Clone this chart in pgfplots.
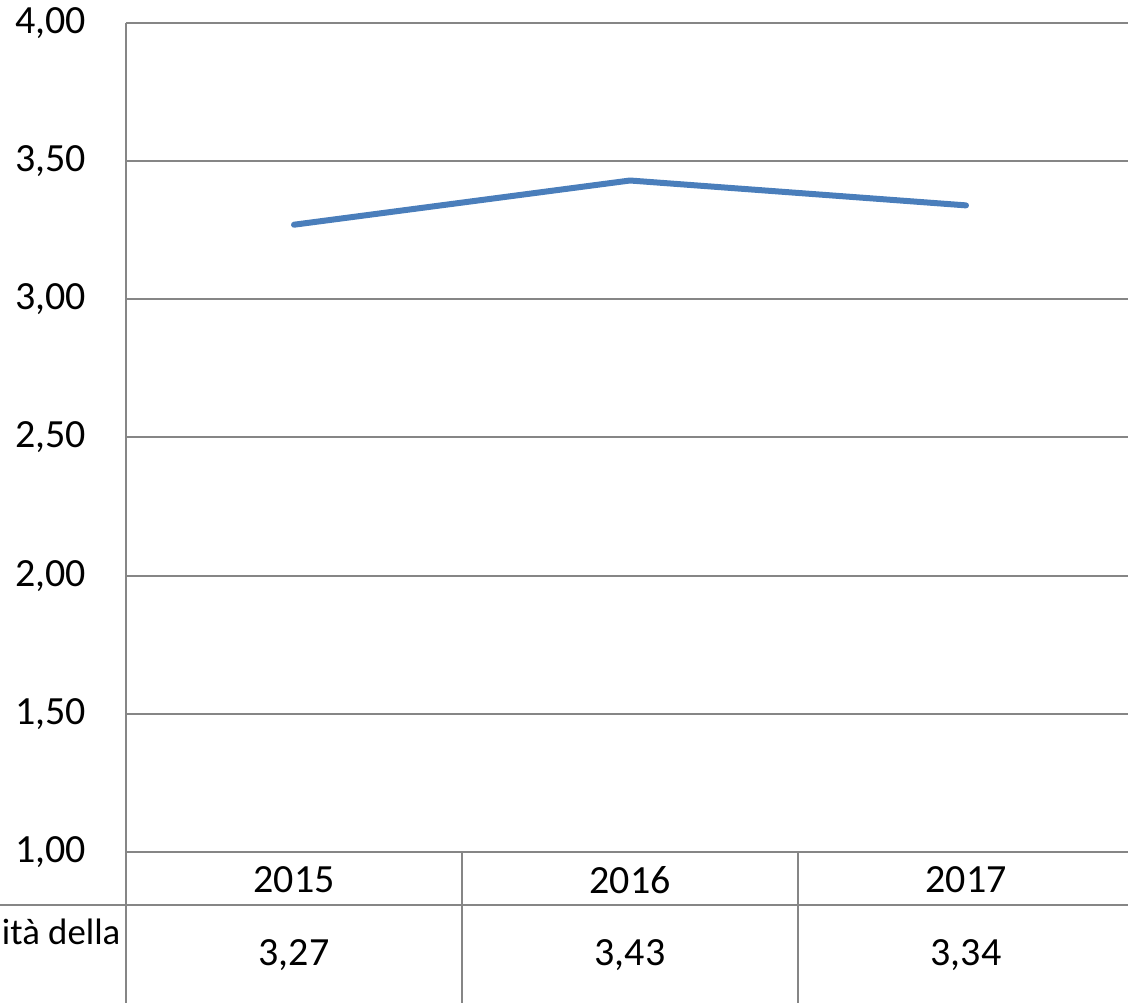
\documentclass[border=0pt]{standalone}
\usepackage{fontspec}
\setmainfont{Carlito}
\usepackage{pgfplots}
\pgfplotsset{compat=1.18}
\definecolor{gridgray}{RGB}{134,134,134}
\definecolor{lineblue}{RGB}{74,126,187}
\begin{document}
\fontsize{10}{12}\selectfont
\begin{tikzpicture}
    % 1 px of the reference = 0.25pt
    \useasboundingbox (0,0) rectangle (282pt,-250.75pt);
    \clip (0,0) rectangle (282pt,-250.75pt);
    \begin{axis}[
        at={(31.5pt,-213pt)}, anchor=south west,
        scale only axis,
        width=252pt, height=207.25pt,
        xmin=0, xmax=3,
        ymin=1, ymax=4,
        ytick={1,1.5,2,2.5,3,3.5,4},
        xtick={0.5,1.5,2.5},
        xticklabels={2015,2016,2017},
        major tick length=0pt,
        ymajorgrids,
        grid style={gridgray, line width=0.5pt},
        axis line style={gridgray, line width=0.5pt},
        axis x line*=bottom,
        axis y line*=left,
        /pgf/number format/use comma,
        /pgf/number format/fixed,
        /pgf/number format/fixed zerofill,
        /pgf/number format/precision=2,
        /pgf/number format/assume math mode=true,
        yticklabel style={xshift=-6.5pt},
        ticklabel style={font=\fontsize{10}{12}\selectfont},
        clip=false,
    ]
        \addplot[lineblue, line width=1.5pt, line cap=round, line join=round] coordinates {
            (0.5, 3.27)
            (1.5, 3.43)
            (2.5, 3.34)
        };
    \end{axis}
    % data table below the plot
    \draw[gridgray, line width=0.5pt] (31.5pt,-5.75pt) -- (31.5pt,-250.75pt);
    \draw[gridgray, line width=0.5pt] (0,-226.25pt) -- (282pt,-226.25pt);
    \draw[gridgray, line width=0.5pt] (115.5pt,-213pt) -- (115.5pt,-250.75pt);
    \draw[gridgray, line width=0.5pt] (199.5pt,-213pt) -- (199.5pt,-250.75pt);
    \node[anchor=west, inner sep=0pt, font=\fontsize{9.2}{11}\selectfont] at (0.3pt,-233pt) {ità della};
    \node at (73.5pt,-238.8pt) {3,27};
    \node at (157.5pt,-238.8pt) {3,43};
    \node at (241.5pt,-238.8pt) {3,34};
\end{tikzpicture}
\end{document}
